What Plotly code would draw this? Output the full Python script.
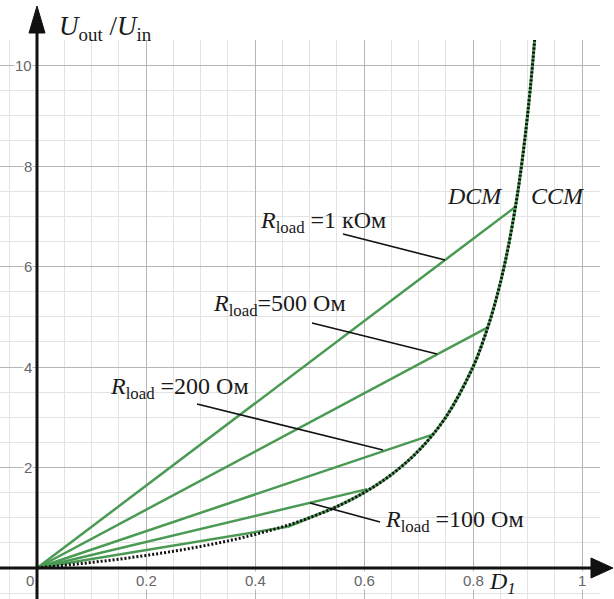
import plotly.graph_objects as go

# ---- data ----
# CCM characteristic (duty cycle D1 vs gain Uout/Uin)
ccm_d = [0.0, 0.05, 0.1, 0.15, 0.2, 0.25, 0.3, 0.35, 0.4, 0.45, 0.5, 0.55, 0.6,
         0.65, 0.7, 0.75, 0.8, 0.82, 0.84, 0.86, 0.88, 0.89, 0.9, 0.91, 0.92]
ccm_m = [0.0, 0.053, 0.111, 0.176, 0.25, 0.333, 0.429, 0.538, 0.667, 0.818, 1.0,
         1.222, 1.5, 1.857, 2.333, 3.0, 4.0, 4.56, 5.25, 6.14, 7.33, 8.09, 9.0,
         10.11, 11.5]

# DCM lines: load resistance, boundary duty cycle, boundary gain
r_load = [50, 100, 200, 500, 1000]
d_boundary = [0.459, 0.606, 0.727, 0.827, 0.877]
m_boundary = [0.82, 1.57, 2.66, 4.79, 7.18]

x_ticks = [0.2, 0.4, 0.6, 0.8, 1.0]
x_tick_labels = ["0.2", "0.4", "0.6", "0.8", "1"]
y_ticks = [2, 4, 6, 8, 10]
y_tick_labels = ["2", "4", "6", "8", "10"]

labels = ["<i>R</i><sub>load</sub> =1 кОм", "<i>R</i><sub>load</sub>=500 Ом",
          "<i>R</i><sub>load</sub> =200 Ом", "<i>R</i><sub>load</sub> =100 Ом"]

# ---- layout geometry ----
W, H = 614, 599
ML, MR, MT, MB = 0, 14, 40, 0
PW, PH = W - ML - MR, H - MT - MB
X0PX, XSCALE = 37, 545.0
Y0PX, YSCALE = 568, 50.25
x_range = [(ML - X0PX) / XSCALE, (ML + PW - X0PX) / XSCALE]
y_range = [(Y0PX - (MT + PH)) / YSCALE, (Y0PX - MT) / YSCALE]


def px(x):
    return (x - ML) / PW


def py(y):
    return (H - MB - y) / PH


GREEN = "#4a9a54"
fig = go.Figure()

# DCM straight lines
for d, m in zip(d_boundary, m_boundary):
    fig.add_trace(go.Scatter(x=[0, d], y=[0, m], mode="lines",
                             line=dict(color=GREEN, width=2.5),
                             hoverinfo="skip", showlegend=False))

# green part of CCM curve (above the lowest boundary)
g_x = [d_boundary[0]] + [d for d in ccm_d if d > d_boundary[0]]
g_y = [m_boundary[0]] + [m for d, m in zip(ccm_d, ccm_m) if d > d_boundary[0]]
fig.add_trace(go.Scatter(x=g_x, y=g_y, mode="lines",
                         line=dict(color=GREEN, width=3, shape="spline"),
                         hoverinfo="skip", showlegend=False))
# dotted CCM curve
fig.add_trace(go.Scatter(x=ccm_d, y=ccm_m, mode="lines",
                         line=dict(color="#111111", width=3, dash="2px,2px",
                                   shape="spline"),
                         hoverinfo="skip", showlegend=False))

shapes = []
# pointer lines
pointers = [((0.5615, 6.647), (0.7486, 6.129)),
            ((0.5046, 4.876), (0.7339, 4.259)),
            ((0.2936, 3.264), (0.6349, 2.348)),
            ((0.5009, 1.294), (0.6294, 0.915))]
for (xa, ya), (xb, yb) in pointers:
    shapes.append(dict(type="line", xref="x", yref="y", x0=xa, y0=ya, x1=xb, y1=yb,
                       line=dict(color="#111111", width=1.6)))

# axes with arrows (paper coordinates from pixels)
AX = "#111111"
shapes.append(dict(type="line", xref="paper", yref="paper",
                   x0=px(37), y0=py(599), x1=px(37), y1=py(30),
                   line=dict(color=AX, width=3)))
shapes.append(dict(type="line", xref="paper", yref="paper",
                   x0=px(0), y0=py(568), x1=px(594), y1=py(568),
                   line=dict(color=AX, width=3)))
shapes.append(dict(type="path", xref="paper", yref="paper",
                   path=f"M {px(29)},{py(33)} L {px(37)},{py(6)} L {px(45)},{py(33)} Z",
                   fillcolor=AX, line=dict(color=AX, width=1)))
shapes.append(dict(type="path", xref="paper", yref="paper",
                   path=f"M {px(591)},{py(558)} L {px(613)},{py(568)} L {px(591)},{py(578)} Z",
                   fillcolor=AX, line=dict(color=AX, width=1)))

ann = []
TICKF = dict(family="Liberation Sans, Arial", size=15, color="#666666")
for v, t in zip(x_ticks, x_tick_labels):
    ann.append(dict(x=v, y=0, xref="x", yref="y", text=t, showarrow=False,
                    font=TICKF, yshift=-12, bgcolor="white", borderpad=0))
ann.append(dict(x=0, y=0, xref="x", yref="y", text="0", showarrow=False,
                font=TICKF, xshift=-7, yshift=-12, bgcolor="white", borderpad=0))
for v, t in zip(y_ticks, y_tick_labels):
    ann.append(dict(x=0, y=v, xref="x", yref="y", text=t, showarrow=False,
                    font=TICKF, xanchor="right", xshift=-4, bgcolor="white",
                    borderpad=0))

SERIF = dict(family="Liberation Serif, Times New Roman", size=24, color="#1a1a1a")
label_pos = [(0.4055, 6.886), (0.319, 5.234), (0.130, 3.582), (0.635, 0.935)]
for t, (x, y) in zip(labels, label_pos):
    ann.append(dict(x=x, y=y, xref="x", yref="y", text=t, showarrow=False,
                    font=SERIF, xanchor="left", yanchor="middle"))
ann.append(dict(x=0.749, y=7.403, xref="x", yref="y", text="<i>DCM</i>",
                showarrow=False, font=SERIF, xanchor="left", yanchor="middle"))
ann.append(dict(x=0.903, y=7.403, xref="x", yref="y", text="<i>CCM</i>",
                showarrow=False, font=SERIF, xanchor="left", yanchor="middle"))
ann.append(dict(x=0.8255, y=-0.3, xref="x", yref="y", text="<i>D</i><sub><i>1</i></sub>",
                showarrow=False, font=SERIF, xanchor="left", yanchor="middle"))
ann.append(dict(x=px(57), y=py(28), xref="paper", yref="paper",
                text="<i>U</i><sub>out</sub> /<i>U</i><sub>in</sub>",
                showarrow=False, font=dict(SERIF, size=27),
                xanchor="left", yanchor="middle"))

fig.update_layout(
    width=W, height=H, margin=dict(l=ML, r=MR, t=MT, b=MB),
    paper_bgcolor="white", plot_bgcolor="white",
    shapes=shapes, annotations=ann,
    xaxis=dict(range=x_range, tick0=0, dtick=0.2, showgrid=True,
               gridcolor="#b5b5b5", gridwidth=1, zeroline=False,
               showticklabels=False, ticks="", showline=False, fixedrange=True,
               minor=dict(tick0=0, dtick=0.05, showgrid=True, gridcolor="#e3e3e3",
                          gridwidth=1)),
    yaxis=dict(range=y_range, tick0=0, dtick=2, showgrid=True,
               gridcolor="#b5b5b5", gridwidth=1, zeroline=False,
               showticklabels=False, ticks="", showline=False, fixedrange=True,
               minor=dict(tick0=0, dtick=0.5, showgrid=True, gridcolor="#e3e3e3",
                          gridwidth=1)),
)

fig.write_html("out.html", config=dict(displayModeBar=False),
               post_script="document.body.style.margin='0';"
                           "document.body.style.overflow='hidden';")
